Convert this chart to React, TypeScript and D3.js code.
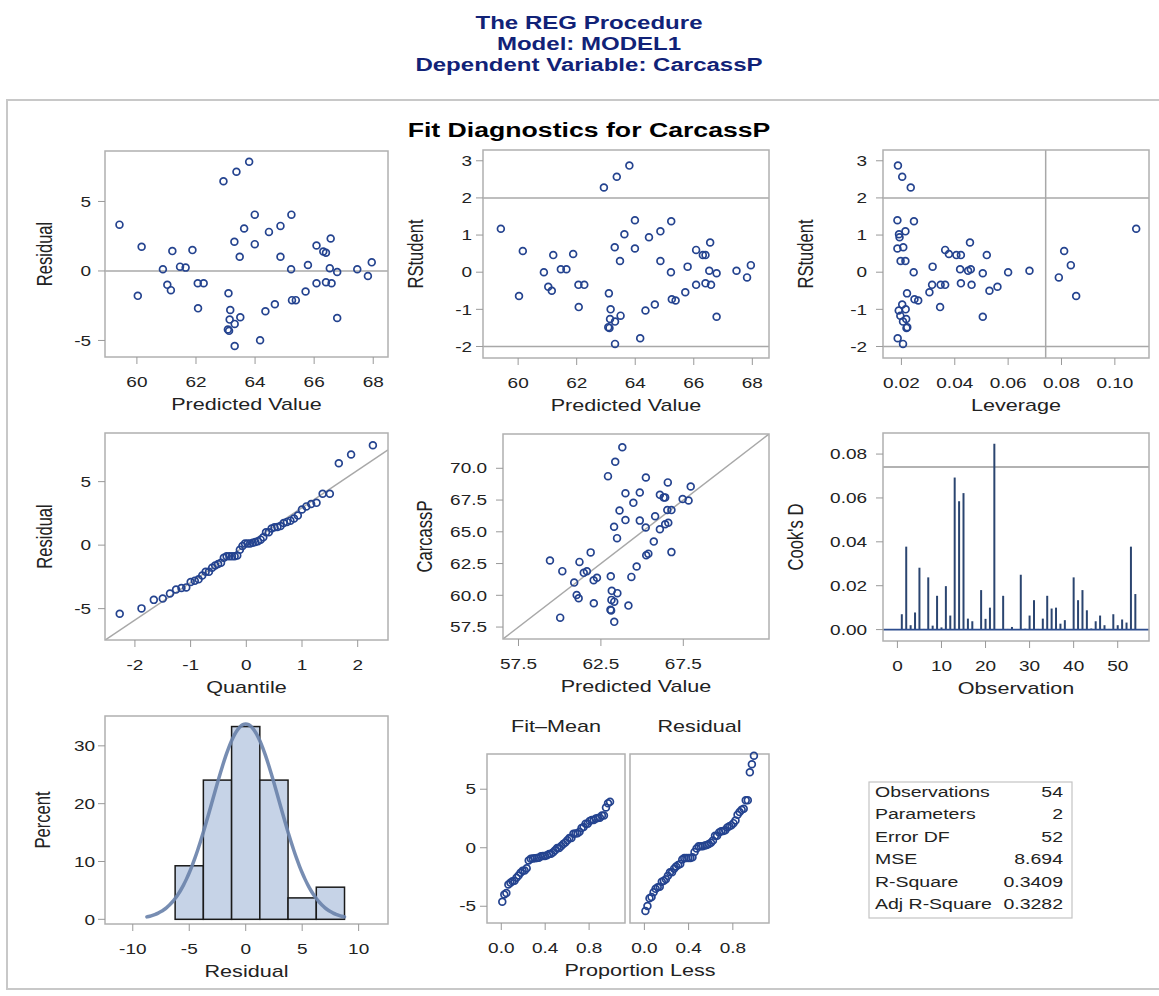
import * as d3 from 'd3';

// ---- values (one entry per observation) ----
const predicted = [59.41, 60.16, 60.03, 60.88, 61.03, 61.15, 61.2, 61.46, 61.65, 61.88, 62.07, 62.06, 62.26, 62.93, 63.1, 63.16, 63.14, 63.08, 63.12, 63.3, 63.37, 63.31, 63.31, 63.48, 63.5, 63.63, 63.8, 63.99, 63.99, 64.17, 64.35, 64.47, 64.67, 64.86, 64.86, 65.22, 65.23, 65.25, 65.38, 65.71, 65.79, 66.08, 66.08, 66.31, 66.4, 66.4, 66.53, 66.56, 66.59, 66.78, 66.78, 67.46, 67.82, 67.95];
const residuals = [3.33, 1.74, -1.79, 0.12, -1.0, -1.38, 1.43, 0.31, 0.24, 1.5, -2.69, -0.88, -0.88, 6.45, -1.6, -2.81, -3.5, -4.21, -4.31, 2.1, 7.14, -3.81, -5.4, 1.02, -3.33, 3.05, 7.86, 4.05, 1.93, -4.98, -2.9, 2.81, -2.4, 3.24, 1.02, 0.12, 4.05, -2.1, -2.1, -1.48, 0.43, -0.88, 1.83, 1.4, 1.31, -0.81, 0.19, 2.33, -0.88, -0.07, -3.38, 0.12, -0.36, 0.62];
const rstudent = [1.17, 0.57, -0.64, 0.0, -0.39, -0.5, 0.46, 0.08, 0.08, 0.49, -0.94, -0.34, -0.34, 2.28, -0.57, -1.0, -1.26, -1.48, -1.5, 0.67, 2.57, -1.33, -1.93, 0.3, -1.17, 1.02, 2.87, 1.4, 0.64, -1.78, -1.03, 0.94, -0.87, 1.1, 0.3, 0.0, 1.37, -0.73, -0.76, -0.54, 0.15, -0.34, 0.6, 0.46, 0.46, -0.3, 0.04, 0.8, -0.34, -0.03, -1.2, 0.04, -0.14, 0.19];
const leverage = [0.108, 0.081, 0.0855, 0.06, 0.056, 0.053, 0.052, 0.046, 0.042, 0.0378, 0.0345, 0.0347, 0.0315, 0.0235, 0.0221, 0.0216, 0.0218, 0.0222, 0.0219, 0.0207, 0.0203, 0.0206, 0.0206, 0.0197, 0.0196, 0.0191, 0.0187, 0.0185, 0.0185, 0.0186, 0.019, 0.0193, 0.0203, 0.0215, 0.0215, 0.0246, 0.0247, 0.0249, 0.0263, 0.0305, 0.0317, 0.0364, 0.0364, 0.0406, 0.0423, 0.0423, 0.045, 0.0457, 0.0463, 0.0505, 0.0505, 0.068, 0.079, 0.0835];
// Cook's D by observation number 1..54
const cooksD = [0.007, 0.0378, 0.002, 0.0078, 0.0282, 0.0003, 0.0238, 0.0018, 0.0154, 0.001, 0.0198, 0.0064, 0.0693, 0.0585, 0.0622, 0.005, 0.0038, 0.0002, 0.018, 0.0049, 0.01, 0.0847, 0.0001, 0.0154, 0.0003, 0.0012, 0.0002, 0.025, 0.0004, 0.0064, 0.0134, 0.0003, 0.005, 0.0154, 0.0096, 0.01, 0.0027, 0.0043, 0.0002, 0.0238, 0.0134, 0.018, 0.0088, 0.0005, 0.0038, 0.0064, 0.002, 0.0003, 0.007, 0.002, 0.0046, 0.0032, 0.0378, 0.0162];

const histEdges = [-6.25, -3.75, -1.25, 1.25, 3.75, 6.25, 8.75];

const headerLines = ['The REG Procedure', 'Model: MODEL1', 'Dependent Variable: CarcassP'];
const plotTitle = 'Fit Diagnostics for CarcassP';
const statLabels = ['Observations', 'Parameters', 'Error DF', 'MSE', 'R-Square', 'Adj R-Square'];
const statValues = ['54', '2', '52', '8.694', '0.3409', '0.3282'];
const MSE = 8.694;
const cutoff = 4 / 54; // 2p/n, also used as 4/n for Cook's D

const FONT = "'Liberation Sans', Arial, Helvetica, sans-serif";
const SX = 1.3; // the reference is stretched sideways
const MARK = '#24438f';
const REF = '#a8a8a8';

// inverse normal cdf (Acklam)
function probit(p) {
	const a = [-39.69683028665376, 220.9460984245205, -275.9285104469687, 138.357751867269, -30.66479806614716, 2.506628277459239];
	const b = [-54.47609879822406, 161.5858368580409, -155.6989798598866, 66.80131188771972, -13.28068155288572];
	const c = [-0.007784894002430293, -0.3223964580411365, -2.400758277161838, -2.549732539343734, 4.374664141464968, 2.938163982698783];
	const d = [0.007784695709041462, 0.3224671290700398, 2.445134137142996, 3.754408661907416];
	const lo = 0.02425;
	if (p < lo || p > 1 - lo) {
		const q = Math.sqrt(-2 * Math.log(p < lo ? p : 1 - p));
		const v = (((((c[0] * q + c[1]) * q + c[2]) * q + c[3]) * q + c[4]) * q + c[5]) / ((((d[0] * q + d[1]) * q + d[2]) * q + d[3]) * q + 1);
		return p < lo ? v : -v;
	}
	const q = p - 0.5, r = q * q;
	return ((((((a[0] * r + a[1]) * r + a[2]) * r + a[3]) * r + a[4]) * r + a[5]) * q) / (((((b[0] * r + b[1]) * r + b[2]) * r + b[3]) * r + b[4]) * r + 1);
}

const Txt = ({ x, y, size, anchor = 'start', weight = 'normal', fill = '#222', rotate = false, children }) => (
	<text
		transform={`translate(${x},${y}) scale(${SX},1)${rotate ? ' rotate(-90)' : ''}`}
		fontSize={size}
		textAnchor={anchor}
		fontWeight={weight}
		fill={fill}
		fontFamily={FONT}
	>
		{children}
	</text>
);

// plot wall + axes; children are clipped (ref lines, bars), dots are not
const Frame = ({ id, box, xs, ys, xTicks, yTicks, xFmt = String, yFmt = String, xLabel, yLabel, yLabelX, yGap = 14, showY = true, dots, children }) => {
	const [l, r, t, b] = box;
	return (
		<g>
			<rect x={l} y={t} width={r - l} height={b - t} fill='#fff' />
			<clipPath id={id}>
				<rect x={l} y={t} width={r - l} height={b - t} />
			</clipPath>
			<g clipPath={`url(#${id})`}>{children}</g>
			<rect x={l} y={t} width={r - l} height={b - t} fill='none' stroke='#b0b0b0' strokeWidth={1.5} />
			{dots}
			{xTicks.map((v) => (
				<g key={'x' + v}>
					<line x1={xs(v)} x2={xs(v)} y1={b} y2={b + 7} stroke='#999' />
					<Txt x={xs(v)} y={b + 29.5} size={14.6} anchor='middle'>
						{xFmt(v)}
					</Txt>
				</g>
			))}
			{showY &&
				yTicks.map((v) => (
					<g key={'y' + v}>
						<line x1={l - 7} x2={l} y1={ys(v)} y2={ys(v)} stroke='#999' />
						<Txt x={l - yGap} y={ys(v) + 5.2} size={14.6} anchor='end'>
							{yFmt(v)}
						</Txt>
					</g>
				))}
			{xLabel && (
				<Txt x={(l + r) / 2} y={b + 53} size={16.6} anchor='middle'>
					{xLabel}
				</Txt>
			)}
			{yLabel && (
				<Txt x={yLabelX} y={(t + b) / 2} size={16.6} anchor='middle' rotate>
					{yLabel}
				</Txt>
			)}
		</g>
	);
};

const Dots = ({ xs, ys, xv, yv }) => (
	<g>
		{xv.map((v, i) => (
			<circle key={i} cx={xs(v)} cy={ys(yv[i])} r={3.4} fill='none' stroke={MARK} strokeWidth={1.7} />
		))}
	</g>
);

const App = () => {
	const n = residuals.length;
	const sigma = Math.sqrt(MSE);
	const f1 = d3.format('.1f');
	const f2 = d3.format('.2f');

	// row 1
	const b1 = [105, 388, 151, 357];
	const x1 = d3.scaleLinear().domain([58.92, 68.5]).range([b1[0], b1[1]]);
	const y1 = d3.scaleLinear().domain([-6.19, 8.63]).range([b1[3], b1[2]]);

	const b2 = [483, 769, 150, 358];
	const x2 = d3.scaleLinear().domain([58.8, 68.57]).range([b2[0], b2[1]]);
	const y2 = d3.scaleLinear().domain([-2.31, 3.29]).range([b2[3], b2[2]]);

	const b3 = [883, 1149, 150, 358];
	const x3 = d3.scaleLinear().domain([0.0131, 0.1128]).range([b3[0], b3[1]]);
	const y3 = d3.scaleLinear().domain([-2.31, 3.29]).range([b3[3], b3[2]]);

	// row 2
	const b4 = [105, 388, 433, 640];
	const x4 = d3.scaleLinear().domain([-2.537, 2.544]).range([b4[0], b4[1]]);
	const y4 = d3.scaleLinear().domain([-7.47, 8.83]).range([b4[3], b4[2]]);
	const sortedRes = [...residuals].sort(d3.ascending);
	const quant = sortedRes.map((_, i) => probit((i + 1 - 0.375) / (n + 0.25)));

	const b5 = [503, 769, 434, 639];
	const dom5 = [56.56, 72.7];
	const x5 = d3.scaleLinear().domain(dom5).range([b5[0], b5[1]]);
	const y5 = d3.scaleLinear().domain(dom5).range([b5[3], b5[2]]);
	const observed = predicted.map((p, i) => p + residuals[i]);

	const b6 = [883, 1149, 433, 641];
	const x6 = d3.scaleLinear().domain([-3.27, 57.1]).range([b6[0], b6[1]]);
	const y6 = d3.scaleLinear().domain([-0.0052, 0.0896]).range([b6[3], b6[2]]);

	// row 3
	const b7 = [105, 388, 716, 924];
	const x7 = d3.scaleLinear().domain([-12.46, 12.6]).range([b7[0], b7[1]]);
	const y7 = d3.scaleLinear().domain([-0.81, 35.16]).range([b7[3], b7[2]]);
	const bins = d3.bin().domain([histEdges[0], histEdges[histEdges.length - 1]]).thresholds(histEdges.slice(1, -1))(residuals);
	const bw = histEdges[1] - histEdges[0];
	const curveX = d3.range(-8.75, 8.76, 0.25);
	const density = (x) => (100 * bw * Math.exp(-(x * x) / (2 * MSE))) / (sigma * Math.sqrt(2 * Math.PI));
	const curve = d3.line().curve(d3.curveBasis).x((d) => x7(d)).y((d) => y7(density(d)));

	const b8a = [487, 625, 754, 923];
	const b8b = [630, 769, 754, 923];
	const x8a = d3.scaleLinear().domain([-0.13, 1.127]).range([b8a[0], b8a[1]]);
	const x8b = d3.scaleLinear().domain([-0.13, 1.127]).range([b8b[0], b8b[1]]);
	const y8 = d3.scaleLinear().domain([-6.43, 8.01]).range([b8a[3], b8a[2]]);
	const meanPred = d3.mean(predicted);
	const fitMean = predicted.map((p) => p - meanPred).sort(d3.ascending);
	const prop = fitMean.map((_, i) => (i + 0.5) / n);

	return (
		<div style={{ position: 'absolute', left: 0, top: 0 }}>
			<svg width={1159} height={996} style={{ display: 'block', background: '#fff' }}>
				{headerLines.map((s, i) => (
					<Txt key={s} x={589} y={29 + i * 21} size={18.5} anchor='middle' weight='bold' fill='#112277'>
						{s}
					</Txt>
				))}
				<rect x={7} y={100} width={1170} height={889} fill='#fff' stroke='#c8c8c8' strokeWidth={2} />
				<Txt x={589} y={137} size={20.5} anchor='middle' weight='bold' fill='#000'>
					{plotTitle}
				</Txt>

				<Frame id='c1' box={b1} xs={x1} ys={y1} xTicks={[60, 62, 64, 66, 68]} yTicks={[-5, 0, 5]} xLabel='Predicted Value' yLabel='Residual' yLabelX={52} yGap={14}
					dots={<Dots xs={x1} ys={y1} xv={predicted} yv={residuals} />}>
					<line x1={b1[0]} x2={b1[1]} y1={y1(0)} y2={y1(0)} stroke={REF} strokeWidth={1.5} />
				</Frame>

				<Frame id='c2' box={b2} xs={x2} ys={y2} xTicks={[60, 62, 64, 66, 68]} yTicks={[-2, -1, 0, 1, 2, 3]} xLabel='Predicted Value' yLabel='RStudent' yLabelX={423} yGap={11}
					dots={<Dots xs={x2} ys={y2} xv={predicted} yv={rstudent} />}>
					{[-2, 2].map((v) => (
						<line key={v} x1={b2[0]} x2={b2[1]} y1={y2(v)} y2={y2(v)} stroke={REF} strokeWidth={1.5} />
					))}
				</Frame>

				<Frame id='c3' box={b3} xs={x3} ys={y3} xTicks={[0.02, 0.04, 0.06, 0.08, 0.1]} xFmt={f2} yTicks={[-2, -1, 0, 1, 2, 3]} xLabel='Leverage' yLabel='RStudent' yLabelX={813} yGap={16}
					dots={<Dots xs={x3} ys={y3} xv={leverage} yv={rstudent} />}>
					{[-2, 2].map((v) => (
						<line key={v} x1={b3[0]} x2={b3[1]} y1={y3(v)} y2={y3(v)} stroke={REF} strokeWidth={1.5} />
					))}
					<line x1={x3(cutoff)} x2={x3(cutoff)} y1={b3[2]} y2={b3[3]} stroke={REF} strokeWidth={1.5} />
				</Frame>

				<Frame id='c4' box={b4} xs={x4} ys={y4} xTicks={[-2, -1, 0, 1, 2]} yTicks={[-5, 0, 5]} xLabel='Quantile' yLabel='Residual' yLabelX={52} yGap={14}
					dots={<Dots xs={x4} ys={y4} xv={quant} yv={sortedRes} />}>
					<line x1={x4(-2.537)} x2={x4(2.544)} y1={y4(-2.537 * sigma)} y2={y4(2.544 * sigma)} stroke={REF} strokeWidth={1.5} />
				</Frame>

				<Frame id='c5' box={b5} xs={x5} ys={y5} xTicks={[57.5, 62.5, 67.5]} xFmt={f1} yTicks={[57.5, 60, 62.5, 65, 67.5, 70]} yFmt={f1} xLabel='Predicted Value' yLabel='CarcassP' yLabelX={432} yGap={16}
					dots={<Dots xs={x5} ys={y5} xv={predicted} yv={observed} />}>
					<line x1={x5(dom5[0])} x2={x5(dom5[1])} y1={y5(dom5[0])} y2={y5(dom5[1])} stroke={REF} strokeWidth={1.5} />
				</Frame>

				<Frame id='c6' box={b6} xs={x6} ys={y6} xTicks={[0, 10, 20, 30, 40, 50]} yTicks={[0, 0.02, 0.04, 0.06, 0.08]} yFmt={f2} xLabel='Observation' yLabel="Cook's D" yLabelX={803} yGap={16}>
					<line x1={b6[0]} x2={b6[1]} y1={y6(cutoff)} y2={y6(cutoff)} stroke='#999' strokeWidth={1.5} />
					{cooksD.map((v, i) => (
						<line key={i} x1={x6(i + 1)} x2={x6(i + 1)} y1={y6(0)} y2={y6(v)} stroke='#2b4570' strokeWidth={2} />
					))}
					<line x1={b6[0]} x2={b6[1]} y1={y6(0)} y2={y6(0)} stroke='#2d4d8e' strokeWidth={1.6} />
				</Frame>

				<Frame id='c7' box={b7} xs={x7} ys={y7} xTicks={[-10, -5, 0, 5, 10]} yTicks={[0, 10, 20, 30]} xLabel='Residual' yLabel='Percent' yLabelX={50} yGap={10}>
					{bins.map((bn, i) => (
						<rect key={i} x={x7(bn.x0)} y={y7((100 * bn.length) / n)} width={x7(bn.x1) - x7(bn.x0)} height={y7(0) - y7((100 * bn.length) / n)} fill='#c6d3e7' stroke='#1a1a1a' strokeWidth={1.5} />
					))}
					<path d={curve(curveX)} fill='none' stroke='#6b83ab' strokeWidth={3.5} strokeOpacity={0.92} strokeLinecap='round' />
				</Frame>

				<Frame id='c8a' box={b8a} xs={x8a} ys={y8} xTicks={[0, 0.4, 0.8]} xFmt={f1} yTicks={[-5, 0, 5]} yGap={11}
					dots={<Dots xs={x8a} ys={y8} xv={prop} yv={fitMean} />} />
				<Frame id='c8b' box={b8b} xs={x8b} ys={y8} xTicks={[0, 0.4, 0.8]} xFmt={f1} yTicks={[]} showY={false}
					dots={<Dots xs={x8b} ys={y8} xv={prop} yv={sortedRes} />} />
				<Txt x={(b8a[0] + b8a[1]) / 2} y={732} size={16.6} anchor='middle'>
					Fit–Mean
				</Txt>
				<Txt x={(b8b[0] + b8b[1]) / 2} y={732} size={16.6} anchor='middle'>
					Residual
				</Txt>
				<Txt x={640} y={b8a[3] + 53} size={16.6} anchor='middle'>
					Proportion Less
				</Txt>

				<rect x={869} y={782} width={203} height={136} fill='#fff' stroke='#c4c4c4' strokeWidth={1.2} />
				{statLabels.map((s, i) => (
					<g key={s}>
						<Txt x={875} y={797 + i * 22.4} size={15}>
							{s}
						</Txt>
						<Txt x={1063} y={797 + i * 22.4} size={15} anchor='end'>
							{statValues[i]}
						</Txt>
					</g>
				))}
			</svg>
		</div>
	);
};

export default App;
